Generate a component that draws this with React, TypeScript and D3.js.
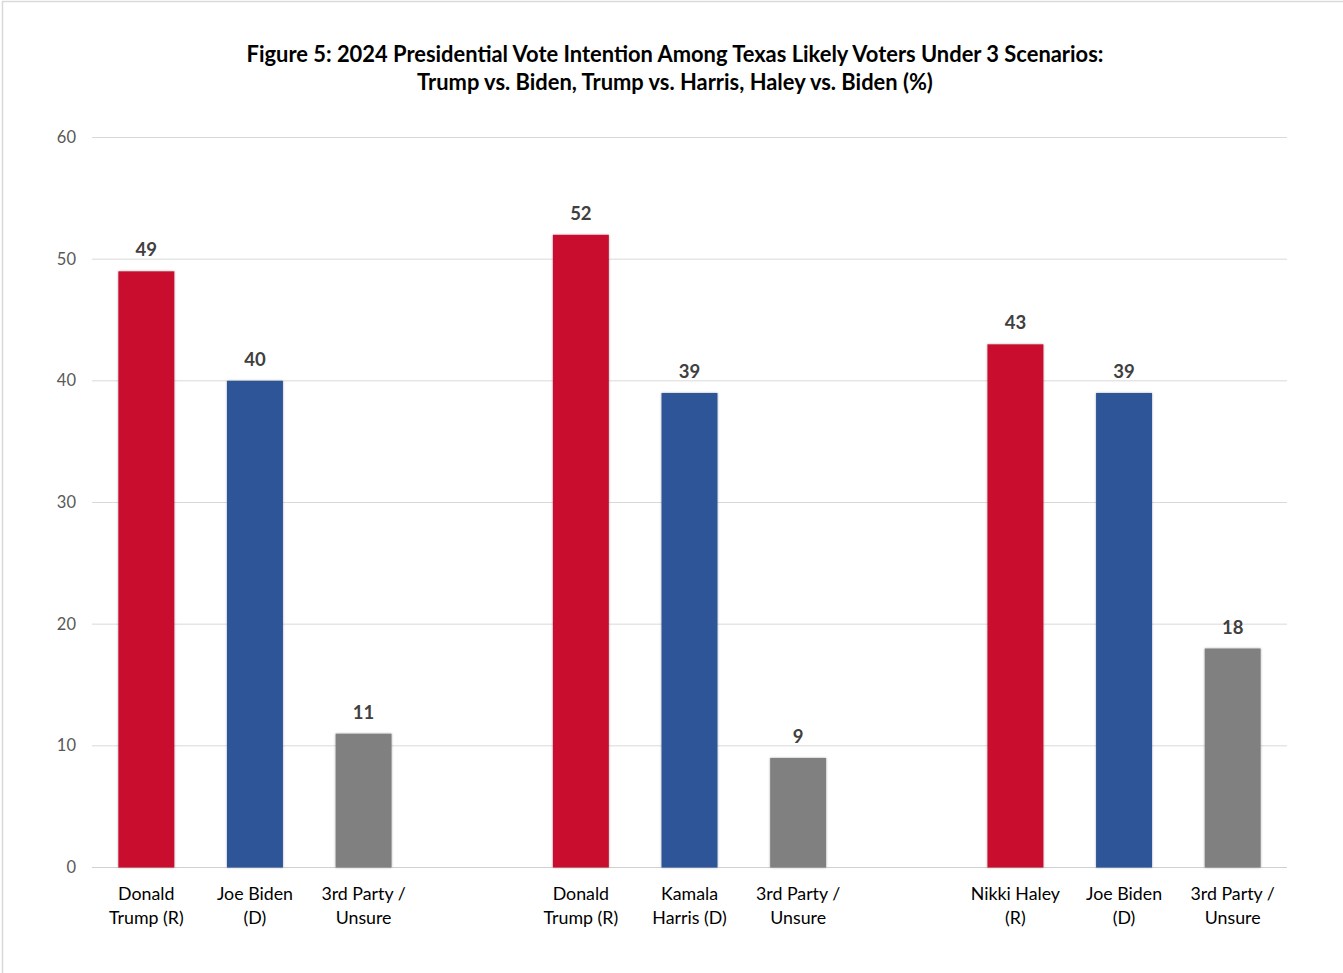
import React from "react";
import * as d3 from "d3";

const scenarios = ["Trump vs. Biden", "Trump vs. Harris", "Haley vs. Biden"];
const candidateLabels = [
  [["Donald", "Trump (R)"], ["Joe Biden", "(D)"], ["3rd Party /", "Unsure"]],
  [["Donald", "Trump (R)"], ["Kamala", "Harris (D)"], ["3rd Party /", "Unsure"]],
  [["Nikki Haley", "(R)"], ["Joe Biden", "(D)"], ["3rd Party /", "Unsure"]],
];
const values = [
  [49, 40, 11],
  [52, 39, 9],
  [43, 39, 18],
];
const partyColors = ["#C8102E", "#2E5597", "#808080"];
const yTicks = [0, 10, 20, 30, 40, 50, 60];
const titleLines = [
  "Figure 5: 2024 Presidential Vote Intention Among Texas Likely Voters Under 3 Scenarios:",
  "Trump vs. Biden, Trump vs. Harris, Haley vs. Biden (%)",
];

const W = 1343;
const H = 973;
const FONT = "Lato, 'Open Sans', sans-serif";

export default function App() {
  const left = 92;
  const right = 1287;
  const top = 137.5;
  const bottom = 867.5;

  // slots: 3 bars per scenario plus a gap slot between scenarios
  const slots: string[] = [];
  scenarios.forEach((s, i) => {
    for (let j = 0; j < 3; j++) slots.push(`${i}-${j}`);
    if (i < scenarios.length - 1) slots.push(`gap-${i}`);
  });

  const x = d3.scaleBand<string>().domain(slots).range([left, right]).paddingInner(0.485).paddingOuter(0.2425);
  const y = d3.scaleLinear().domain([0, 60]).range([bottom, top]);

  const bars: any[] = [];
  values.forEach((row, i) =>
    row.forEach((v, j) => {
      bars.push({ key: `${i}-${j}`, v, color: partyColors[j], label: candidateLabels[i][j] });
    })
  );

  return (
    <svg
      width={W}
      height={H}
      style={{ position: "absolute", left: 0, top: 0, background: "#fff" }}
      fontFamily={FONT}
    >
      <defs>
        <filter id="shadow" x="-20%" y="-5%" width="140%" height="110%">
          <feDropShadow dx="0" dy="0" stdDeviation="1.2" floodColor="#000" floodOpacity="0.35" />
        </filter>
      </defs>
      <rect x={2.5} y={1.5} width={W + 10} height={H + 10} fill="#fff" stroke="#d9d9d9" strokeWidth={1.5} />
      {titleLines.map((t, i) => (
        <text key={i} x={675} y={61.5 + i * 28} textAnchor="middle" fontWeight="bold" fontSize={21.9} fill="#000">
          {t}
        </text>
      ))}
      {yTicks.map((t) => (
        <g key={t}>
          <line x1={left} x2={right} y1={y(t)} y2={y(t)} stroke={t === 0 ? "#d0d0d0" : "#d9d9d9"} strokeWidth={1} />
          <text x={76} y={y(t) + 5.5} textAnchor="end" fontSize={16.5} fill="#595959">
            {t}
          </text>
        </g>
      ))}
      {bars.map((b) => {
        const bx = x(b.key)!;
        const cx = bx + x.bandwidth() / 2;
        return (
          <g key={b.key}>
            <rect
              x={bx}
              y={y(b.v)}
              width={x.bandwidth()}
              height={y(0) - y(b.v)}
              fill={b.color}
              filter="url(#shadow)"
            />
            <text x={cx} y={y(b.v) - 15} textAnchor="middle" fontWeight="bold" fontSize={18.5} fill="#404040">
              {b.v}
            </text>
            {b.label.map((l: string, k: number) => (
              <text key={k} x={cx} y={899.5 + k * 24} textAnchor="middle" fontSize={17.8} fill="#000">
                {l}
              </text>
            ))}
          </g>
        );
      })}
    </svg>
  );
}
